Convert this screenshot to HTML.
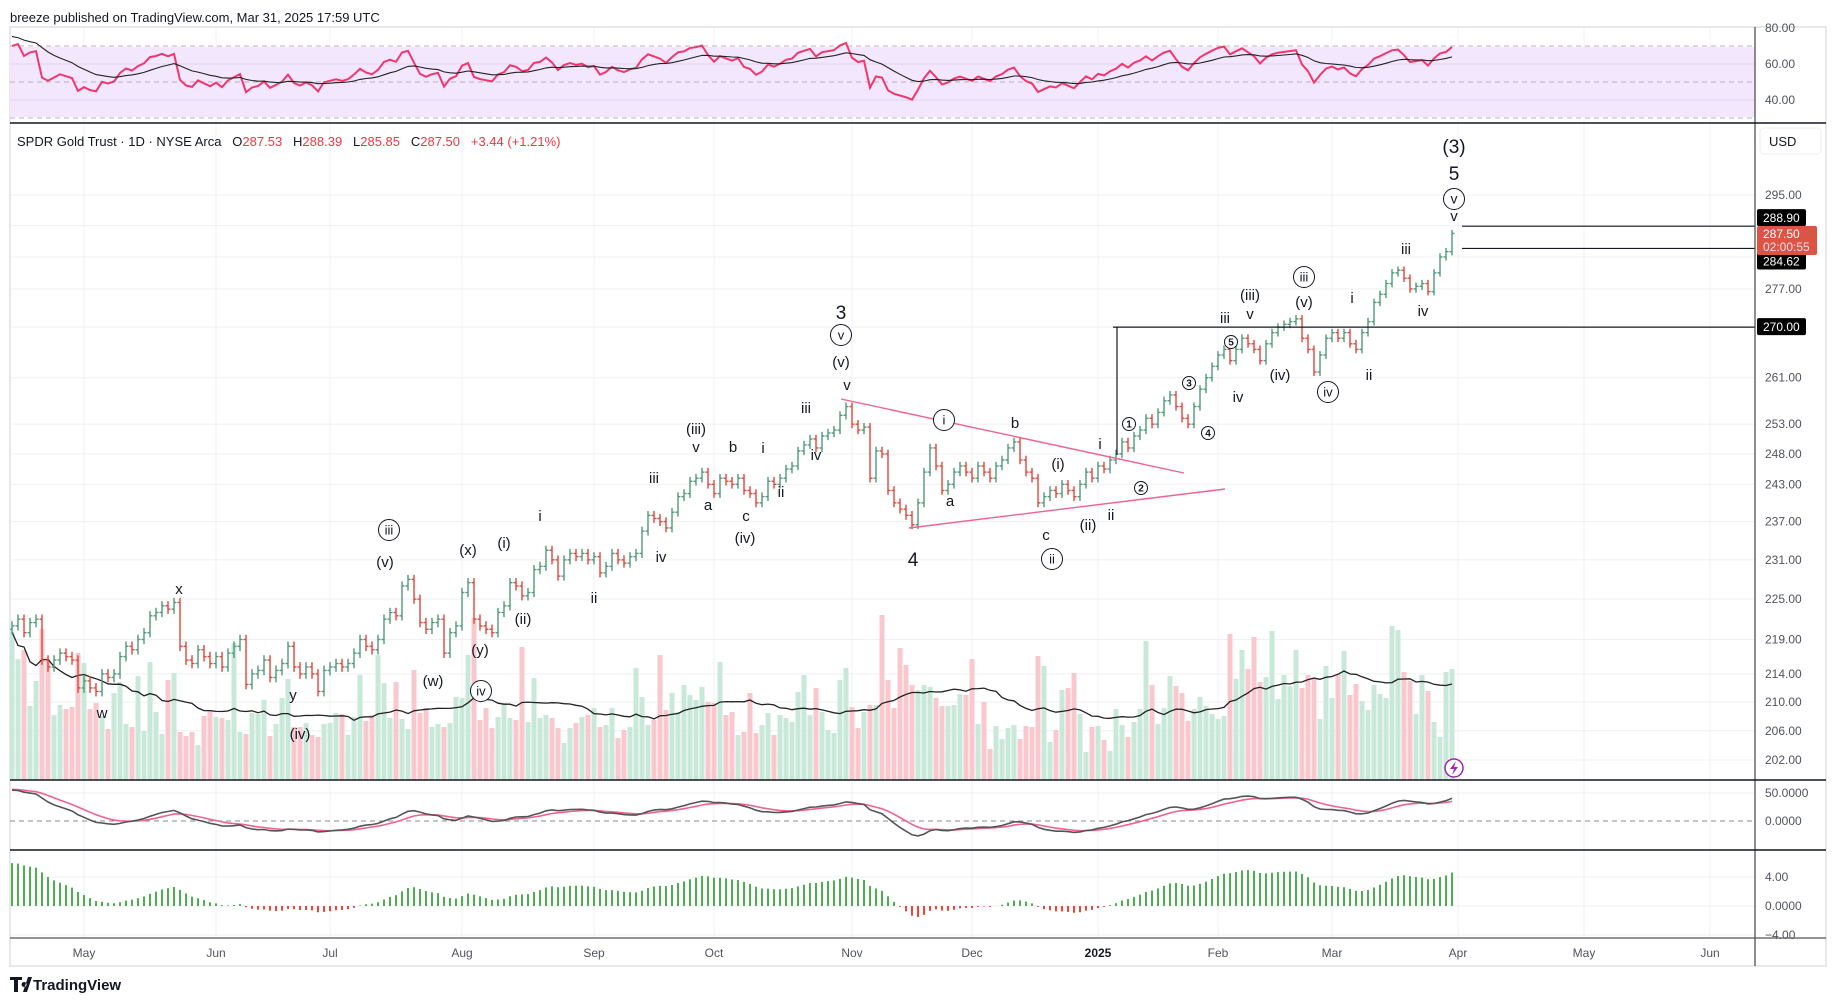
<!DOCTYPE html>
<html><head><meta charset="utf-8"><title>SPDR Gold Trust chart</title>
<style>
html,body{margin:0;padding:0;background:#fff;}
svg{display:block;font-family:"Liberation Sans",Arial,sans-serif;}
</style></head>
<body>
<svg id="chart" width="1835" height="1001" viewBox="0 0 1835 1001" xmlns="http://www.w3.org/2000/svg">
<defs>
<clipPath id="mainClip"><rect x="10" y="124" width="1745" height="656"/></clipPath>
<clipPath id="rsiClip"><rect x="10" y="27" width="1745" height="96"/></clipPath>
</defs>
<rect x="0" y="0" width="1835" height="1001" fill="#fff"/>
<text x="10" y="22" font-size="13" fill="#131722">breeze published on TradingView.com, Mar 31, 2025 17:59 UTC</text>
<rect x="10" y="27" width="1816" height="939" fill="none" stroke="#e6e8ee" stroke-width="2"/>
<g id="grid"></g>
<rect x="10" y="47" width="1745" height="70" fill="#f3e7fd"/>
<g id="rsiGuides"></g>
<g id="rsiPane" clip-path="url(#rsiClip)"></g>
<g id="volPane" clip-path="url(#mainClip)"></g>
<g id="pricePane" clip-path="url(#mainClip)"></g>
<g id="osc1"></g>
<g id="osc2"></g>
<g id="drawings"></g>
<g id="annotations"></g>
<g id="axes"></g>
<text x="17" y="146" font-size="13" fill="#131722" style="white-space:pre">SPDR Gold Trust · 1D · NYSE Arca   O<tspan fill="#f23645">287.53</tspan>   H<tspan fill="#f23645">288.39</tspan>   L<tspan fill="#f23645">285.85</tspan>   C<tspan fill="#f23645">287.50</tspan>   <tspan fill="#f23645">+3.44 (+1.21%)</tspan></text>
<g><rect x="1760" y="128" width="61" height="26" rx="4" fill="#fff" stroke="#eceef2"/><text x="1769" y="146" font-size="13" fill="#131722">USD</text></g>
<g><path d="M10 977h12v3h-4v12h-4v-12h-4z M23 992l5-15h4l-5 15z M24 982a2.5 2.5 0 1 0 0.1 0z" fill="#131722"/><text x="33" y="990" font-size="15" fill="#131722" font-weight="bold">TradingView</text></g>
</svg>
<script>
const closes = [221,222,220,221.5,222,216,215,216,217,216.5,216,212,213,212,211.5,214,213.5,214,216.5,218,217.5,219,220,222.5,223,224,223.5,224.5,218,216,215.5,217.5,216.5,215.5,216.5,215,217,218,219,212.5,214,214.5,216,213.5,214.5,215.5,218,215,214,215,214,211.5,214.5,215,215.5,215,215.5,217,219,218,217.5,219,222,223,222.5,227,228,225,221.5,220.5,221.5,222,217,220,221,226,227.5,222,221,220.5,220,223,224,227.5,227,225.5,226,229.5,230,232.5,231,228.5,231,232,231.5,232,231,231.5,229,230,232,231,230.5,231.5,232,235.5,238,237.5,237,236,238.5,241,241.5,243.5,244,245,243,241.5,244,243.5,243,244,242,241.5,240,241,243.5,243,244,245.5,246,248.5,249.5,250.5,249,251,251.5,252,254.5,256,253,252,252.5,244,248.5,248,242,240,239,238,236.5,240,245,249,246,242,243,245,246,245,244,246,245,244,246,247,249,250,247,245,244,240,241,242,241.5,243,242,241,243,245,244,246,245.5,247,248,250,249,251,252,254,253,255,257,258,256,254,253,256,259,261,263,265,266,264,266,268,267,266,264,267,269,270,270.5,271,271.5,268,266,262,265,268,269,268,269,267,266,269,271,274.5,276,278,280,280.5,279,277,277.5,278,276.5,280,283,284,287.5];
const volumes = [148,121,130,74,99,151,121,65,75,71,73,127,117,71,77,64,51,87,98,56,53,104,49,118,68,46,100,107,48,44,48,35,64,70,63,62,60,137,48,46,67,66,80,44,56,82,101,53,53,57,45,43,56,57,67,66,45,63,105,59,65,125,97,62,98,61,51,110,67,72,53,56,
53,57,83,82,125,162,60,72,52,63,77,62,60,133,58,102,62,65,62,52,37,52,57,63,65,72,53,55,72,42,50,53,112,83,55,60,125,70,87,68,95,85,80,93,78,77,118,65,68,45,48,87,47,55,67,45,65,62,58,88,105,65,92,68,50,47,100,112,73,52,68,75,75,165,100,72,132,
115,95,90,95,93,82,74,74,75,86,85,121,56,78,31,54,41,52,55,41,54,53,124,114,38,50,90,92,107,66,28,53,54,40,29,71,55,43,58,71,139,95,56,72,104,94,87,59,71,83,74,66,61,64,146,101,130,111,143,98,103,149,81,105,94,130,92,105,101,61,114,82,106,129,85,96,79,70,95,86,82,154,150,108,99,66,105,89,58,43,108,111];
const monthLabels = ['May','Jun','Jul','Aug','Sep','Oct','Nov','Dec','2025','Feb','Mar','Apr','May','Jun'];
const monthIdx = [12,34,53,75,97,117,140,160,181,201,220,241,262,283];
const priceTicks = [202,206,210,214,219,225,231,237,243,248,253,261,270,277,283,289,295];
const priceTickLabels = ['202.00','206.00','210.00','214.00','219.00','225.00','231.00','237.00','243.00','248.00','253.00','261.00','','277.00','','','295.00'];
const rsiTicks = [80,60,40];
const oscTicks = [50,0];
const macdTicks = [4,0,-4];

const NS='http://www.w3.org/2000/svg';
function mk(tag,attrs,parent){const e=document.createElementNS(NS,tag);for(const k in attrs)e.setAttribute(k,attrs[k]);parent.appendChild(e);return e;}
const xOf = i => 12 + i*6;
const yP = p => 195 + 1492*Math.log(295/p);
const yV = v => 780 - v;
const yR = v => 64 - (v-60)*1.8;
const yO = v => 821 - v*0.56;
const yM = v => 906 - v*7.25;
const RIGHT=1755;

const grid=document.getElementById('grid');
monthIdx.forEach((mi,k)=>{
  const l=mk('line',{x1:xOf(mi),x2:xOf(mi),y1:27,y2:938,stroke:'#eef0f3','stroke-width':1},grid);
  
  
});
priceTicks.forEach(p=>{
  const l=mk('line',{x1:10,x2:RIGHT,y1:yP(p),y2:yP(p),stroke:'#eef0f3'},grid);
  
  
});
[4,0,-4].forEach(v=>{mk('line',{x1:10,x2:RIGHT,y1:yM(v),y2:yM(v),stroke:'#eef0f3'},grid);});
mk('line',{x1:10,x2:RIGHT,y1:yO(50),y2:yO(50),stroke:'#eef0f3'},grid);

const rg=document.getElementById('rsiGuides');
[60,40].forEach(v=>mk('line',{x1:10,x2:RIGHT,y1:yR(v),y2:yR(v),stroke:'#e3d3f3'},rg));
[70,50,30].forEach(v=>mk('line',{x1:10,x2:RIGHT,y1:yR(v),y2:yR(v),stroke:'#b8b0c0','stroke-dasharray':'5,4'},rg));

let ag=0.9, al=0.3; const rsiRaw=[];
closes.forEach((c,i)=>{
  const ch = i===0?0.5:c-closes[i-1];
  ag=(ag*13+Math.max(ch,0))/14; al=(al*13+Math.max(-ch,0))/14;
  rsiRaw.push(100-100/(1+ag/al));
});
const rsi=rsiRaw.map(v=>55+(v-55)*0.72);
let rm=76; const rsiMa=rsi.map(v=>{rm=rm+(v-rm)*2/15;return rm;});
const rp=document.getElementById('rsiPane');
const rl=mk('polyline',{points:rsi.map((v,i)=>xOf(i)+','+yR(v).toFixed(1)).join(' '),fill:'none',stroke:'#f2366b','stroke-width':2},rp);


const rml=mk('polyline',{points:rsiMa.map((v,i)=>xOf(i)+','+yR(v).toFixed(1)).join(' '),fill:'none',stroke:'#222','stroke-width':1.1},rp);



const vp=document.getElementById('volPane');
volumes.forEach((v,i)=>{
  const o=i===0?closes[0]-0.5:closes[i-1];
  const up=closes[i]>=o;
  const r=mk('rect',{x:xOf(i)-2.5,y:yV(v),width:5,height:v,fill:up?'#c8e8da':'#f9c8ce'},vp);
  
  
});
const vma=[];volumes.forEach((v,i)=>{const s=volumes.slice(Math.max(0,i-19),i+1);vma.push(s.reduce((a,b)=>a+b,0)/s.length);});
const vml=mk('polyline',{points:vma.map((v,i)=>xOf(i)+','+yV(v).toFixed(1)).join(' '),fill:'none',stroke:'#222','stroke-width':1.3},vp);



const pp=document.getElementById('pricePane');
closes.forEach((c,i)=>{
  const o=i===0?c-0.5:closes[i-1];
  const h=Math.max(o,c)+0.7, l=Math.min(o,c)-0.7;
  const col=c>=o?'#4f9a78':'#e0473c';
  const x=xOf(i);
  const g=mk('g',{stroke:col,'stroke-width':1.4},pp);
  
  
  mk('line',{x1:x,x2:x,y1:yP(h),y2:yP(l)},g);
  mk('line',{x1:x-2.5,x2:x,y1:yP(o),y2:yP(o)},g);
  mk('line',{x1:x,x2:x+2.5,y1:yP(c),y2:yP(c)},g);
});

let e12=closes[0]-4.5,e26=closes[0]-10.5;const macd=[];
closes.forEach(c=>{e12+= (c-e12)*2/13; e26+=(c-e26)*2/27; macd.push(e12-e26);});
const o1=document.getElementById('osc1');
mk('line',{x1:10,x2:RIGHT,y1:yO(0),y2:yO(0),stroke:'#888','stroke-dasharray':'5,4'},o1);
const blk=macd.map(m=>11*m-10);
let sg=blk[0]+2;const sig=blk.map(v=>{sg+=(v-sg)*2/8;return sg;});
const sl=mk('polyline',{points:sig.map((v,i)=>xOf(i)+','+yO(v).toFixed(1)).join(' '),fill:'none',stroke:'#f06292','stroke-width':1.6},o1);


const bl=mk('polyline',{points:blk.map((v,i)=>xOf(i)+','+yO(v).toFixed(1)).join(' '),fill:'none',stroke:'#555','stroke-width':1.6},o1);


const o2=document.getElementById('osc2');
macd.forEach((m,i)=>{
  const r=mk('rect',{x:xOf(i)-1,y:Math.min(yM(m),yM(0)),width:2,height:Math.abs(yM(m)-yM(0)),fill:m>=0?'#4caf50':'#f44336'},o2);
  
  
});

const dr=document.getElementById('drawings');
function ln(x1,y1,x2,y2,col,w,name){const l=mk('line',{x1,y1,x2,y2,stroke:col,'stroke-width':w},dr);}
ln(841,399,1184,473,'#f0628f',1.4,'triangle-upper-line');
ln(909,528,1225,489,'#f0628f',1.4,'triangle-lower-line');
ln(1113,yP(270),RIGHT,yP(270),'#131722',1.2,'level-270-line');
ln(1117,yP(270),1117,455,'#131722',1.2,'measure-vertical-line');
ln(1462,yP(288.9),RIGHT,yP(288.9),'#131722',1.2,'level-288-90-line');
ln(1462,yP(284.62),RIGHT,yP(284.62),'#131722',1.2,'level-284-62-line');
const li=mk('g',{},dr);


mk('circle',{cx:1454,cy:768,r:9,fill:'#fff',stroke:'#9c27b0','stroke-width':1.5},li);
mk('path',{d:'M1456 761 L1450 769 L1454 769 L1452 775 L1458 767 L1454 767 Z',fill:'#9c27b0'},li);

const an=document.getElementById('annotations');
const labels=[
['(3)',1454,153,19,0],['5',1454,180,19,0],['v',1454,199,14,1],['v',1454,221,15,0],
['iii',1406,254,15,0],['iv',1423,316,15,0],['i',1352,303,15,0],['ii',1369,380,15,0],
['iii',1304,277,13,1],['(v)',1304,307,15,0],['(iii)',1250,300,15,0],['v',1250,319,15,0],['iii',1225,323,15,0],
['5',1231,342,10,2],['(iv)',1280,380,15,0],['iv',1238,402,15,0],['iv',1328,392,13,1],
['3',1189,383,10,2],['4',1208,433,10,2],['1',1129,424,10,2],['2',1141,488,10,2],
['i',1100,449,15,0],['ii',1111,520,15,0],['(i)',1058,469,15,0],['(ii)',1088,530,15,0],
['b',1015,428,15,0],['i',944,420,13,1],['a',950,506,15,0],['c',1046,540,15,0],['ii',1052,559,13,1],['4',913,566,19,0],
['3',841,319,19,0],['v',841,335,13,1],['(v)',841,367,15,0],['v',847,390,15,0],['iii',806,413,15,0],['iv',816,460,15,0],
['i',763,453,15,0],['ii',781,497,15,0],['b',733,452,15,0],['a',708,510,15,0],['c',746,521,15,0],['(iv)',745,543,15,0],
['(iii)',696,434,15,0],['v',696,452,15,0],['iii',654,483,15,0],['iv',661,562,15,0],['i',540,521,15,0],['ii',594,603,15,0],
['(i)',504,548,15,0],['(ii)',523,624,15,0],['(x)',468,555,15,0],['(y)',480,655,15,0],['iv',481,691,13,1],['(w)',433,686,15,0],
['iii',389,530,13,1],['(v)',385,567,15,0],['x',179,594,15,0],['w',102,718,15,0],['y',293,700,15,0],['(iv)',300,739,15,0]
];
labels.forEach(([t,x,y,fs,circ])=>{
  const g=mk('g',{},an);
  
  
  if(circ===1){mk('circle',{cx:x,cy:y,r:10.5,fill:'#fff',stroke:'#131722','stroke-width':1},g);
    const tx=mk('text',{x:x,y:y+4.5,'font-size':fs,'text-anchor':'middle',fill:'#131722'},g);tx.textContent=t;}
  else if(circ===2){mk('circle',{cx:x,cy:y,r:6.5,fill:'#fff',stroke:'#131722','stroke-width':1},g);
    const tx=mk('text',{x:x,y:y+3.5,'font-size':fs,'text-anchor':'middle',fill:'#131722','font-weight':'bold'},g);tx.textContent=t;}
  else {const tx=mk('text',{x:x,y:y,'font-size':fs,'text-anchor':'middle',fill:'#131722'},g);tx.textContent=t;}
});

const ax=document.getElementById('axes');
mk('line',{x1:RIGHT,x2:RIGHT,y1:27,y2:966,stroke:'#444','stroke-width':1.2},ax);
[123,780,850].forEach(y=>mk('line',{x1:10,x2:1826,y1:y,y2:y,stroke:'#131722','stroke-width':1.6},ax));
mk('line',{x1:10,x2:1826,y1:938,y2:938,stroke:'#555','stroke-width':1.2},ax);
function tl(txt,x,y,name,fill){const t=mk('text',{x,y,'font-size':12,fill:fill||'#50535e'},ax);t.textContent=txt;return t;}
priceTicks.forEach((p,k)=>{if(priceTickLabels[k])tl(priceTickLabels[k],1765,yP(p)+4,'price-tick-label');});
rsiTicks.forEach(v=>tl(v.toFixed(2),1765,yR(v)+4,'rsi-tick-label'));
oscTicks.forEach(v=>tl(v.toFixed(4),1765,yO(v)+4,'osc-tick-label'));
macdTicks.forEach(v=>tl(v===0?'0.0000':(v<0?'−':'')+Math.abs(v).toFixed(2),1765,yM(v)+4,'macd-tick-label'));
monthLabels.forEach((m,k)=>{const t=tl(m,xOf(monthIdx[k]),957,'month-label',m==='2025'?'#131722':'#50535e');t.setAttribute('text-anchor','middle');if(m==='2025')t.setAttribute('font-weight','bold');});
function box(txt,y,fill,name){const g=mk('g',{},ax);
  mk('rect',{x:1757,y:y-9,width:49,height:17,rx:2,fill:fill},g);const t=mk('text',{x:1763,y:y+4,'font-size':12,fill:'#fff'},g);t.textContent=txt;}
box('270.00',yP(270),'#000','label-270');
box('288.90',yP(288.9)-8,'#000','label-288-90');
box('284.62',yP(284.62)+13,'#000','label-284-62');
const lg=mk('g',{},ax);
mk('rect',{x:1757,y:226,width:60,height:29,rx:2,fill:'#dc5443'},lg);
const t1=mk('text',{x:1763,y:238,'font-size':12,fill:'#fff'},lg);t1.textContent='287.50';
const t2=mk('text',{x:1763,y:251,'font-size':12,fill:'#fde'},lg);t2.textContent='02:00:55';
</script>
</body></html>
